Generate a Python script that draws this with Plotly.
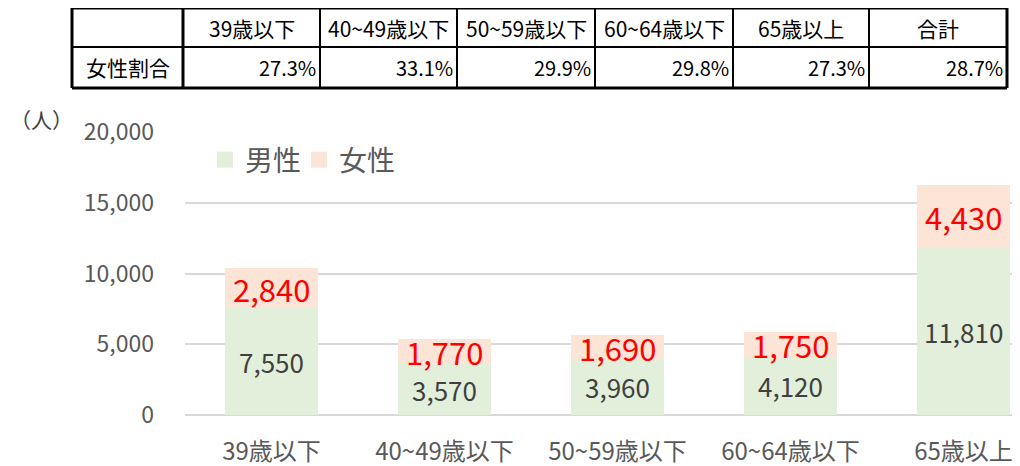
import plotly.graph_objects as go

categories = ["39歳以下", "40~49歳以下", "50~59歳以下", "60~64歳以下", "65歳以上"]
male = [7550, 3570, 3960, 4120, 11810]
female = [2840, 1770, 1690, 1750, 4430]
table_headers = ["39歳以下", "40~49歳以下", "50~59歳以下", "60~64歳以下", "65歳以上", "合計"]
table_ratios = ["27.3%", "33.1%", "29.9%", "29.8%", "27.3%", "28.7%"]
row_label = "女性割合"
series_names = ["男性", "女性"]
series_colors = ["#E2EFDA", "#FCE4D6"]

OFF = 8  # page body margin of the browser
W, H = 1020 - OFF, 466 - OFF
L = 185 - OFF
T = 132 - OFF
B = H - (415 - OFF)
R_ = 0
PW = W - L - R_
PH = H - T - B
FONT = "Noto Sans CJK JP"

def px(xp):
    # reference-window pixel -> paper coordinate
    return (xp - OFF - L) / PW

def py(yp):
    return (H - B - (yp - OFF)) / PH

fig = go.Figure()
for name, vals, col in zip(series_names, [male, female], series_colors):
    fig.add_trace(go.Bar(x=categories, y=vals, name=name, showlegend=False,
                         marker=dict(color=col, line=dict(width=0))))
# legend entries with larger square swatches, one legend per entry
legend_ids = ["legend", "legend2"]
for name, col, lg in zip(series_names, series_colors, legend_ids):
    fig.add_trace(go.Scatter(x=[None], y=[None], mode="markers", name=name, legend=lg,
                             marker=dict(symbol="square", size=17, color=col)))

annotations = []
for c, m, f in zip(categories, male, female):
    annotations.append(dict(x=c, y=m / 2, xref="x", yref="y", text=f"{m:,}", showarrow=False,
                            font=dict(family=FONT, size=26, color="#404040")))
    annotations.append(dict(x=c, y=m + f / 2, xref="x", yref="y", text=f"{f:,}", showarrow=False,
                            font=dict(family=FONT, size=31, color="#FF0000")))

# table
col_edges = [72, 183, 320, 457, 595, 733, 869, 1007]
row_edges = [8, 47, 88]
shapes = []
for i, xe in enumerate(col_edges):
    w = 3 if i in (0, len(col_edges) - 1, 1) else 2
    shapes.append(dict(type="line", xref="paper", yref="paper", x0=px(xe), x1=px(xe),
                       y0=py(row_edges[0]), y1=py(row_edges[-1]), line=dict(color="black", width=w)))
for j, ye in enumerate(row_edges):
    w = 3 if j in (0, len(row_edges) - 1) else 2
    shapes.append(dict(type="line", xref="paper", yref="paper", x0=px(col_edges[0]), x1=px(col_edges[-1]),
                       y0=py(ye), y1=py(ye), line=dict(color="black", width=w)))

ycen_h = (row_edges[0] + row_edges[1]) / 2
ycen_d = (row_edges[1] + row_edges[2]) / 2
for i, h in enumerate(table_headers):
    xc = (col_edges[i + 1] + col_edges[i + 2]) / 2
    annotations.append(dict(x=px(xc), y=py(ycen_h), xref="paper", yref="paper", text=h, showarrow=False,
                            font=dict(family=FONT, size=21, color="#000000"), xanchor="center", yanchor="middle"))
for i, v in enumerate(table_ratios):
    xr = col_edges[i + 2] - 2
    annotations.append(dict(x=px(xr), y=py(ycen_d), xref="paper", yref="paper", text=v, showarrow=False,
                            font=dict(family=FONT, size=20, color="#000000"), xanchor="right", yanchor="middle"))
annotations.append(dict(x=px((col_edges[0] + col_edges[1]) / 2), y=py(ycen_d), xref="paper", yref="paper",
                        text=row_label, showarrow=False, font=dict(family=FONT, size=21, color="#000000"),
                        xanchor="center", yanchor="middle"))
annotations.append(dict(x=px(OFF), y=py(119), xref="paper", yref="paper", text="（人）", showarrow=False,
                        font=dict(family=FONT, size=21, color="#404040"), xanchor="left", yanchor="middle"))

legend_style = dict(orientation="h", xanchor="left", yanchor="middle",
                    font=dict(family=FONT, size=28, color="#595959"), bgcolor="rgba(0,0,0,0)",
                    itemsizing="trace", itemwidth=30)

fig.update_layout(
    width=W, height=H,
    margin=dict(l=L, r=R_, t=T, b=B),
    paper_bgcolor="white", plot_bgcolor="white",
    barmode="stack", bargap=0.46,
    font=dict(family=FONT, color="#595959"),
    showlegend=True,
    legend=dict(x=px(205), y=py(160), **legend_style),
    legend2=dict(x=px(299), y=py(160), **legend_style),
    xaxis=dict(range=[-0.5, (1020 - 185) / 173 - 0.5], showgrid=False, showline=False, ticks="",
               tickfont=dict(family=FONT, size=24, color="#595959"), ticklabelstandoff=20),
    yaxis=dict(range=[0, 20000], dtick=5000, tickformat=",", showgrid=True, gridcolor="#D9D9D9",
               gridwidth=2, zeroline=True, zerolinecolor="#D9D9D9", zerolinewidth=2, showline=False,
               tickfont=dict(family=FONT, size=23, color="#595959"), ticklabelstandoff=30),
    shapes=shapes,
    annotations=annotations,
)

fig.write_html("out.html")
